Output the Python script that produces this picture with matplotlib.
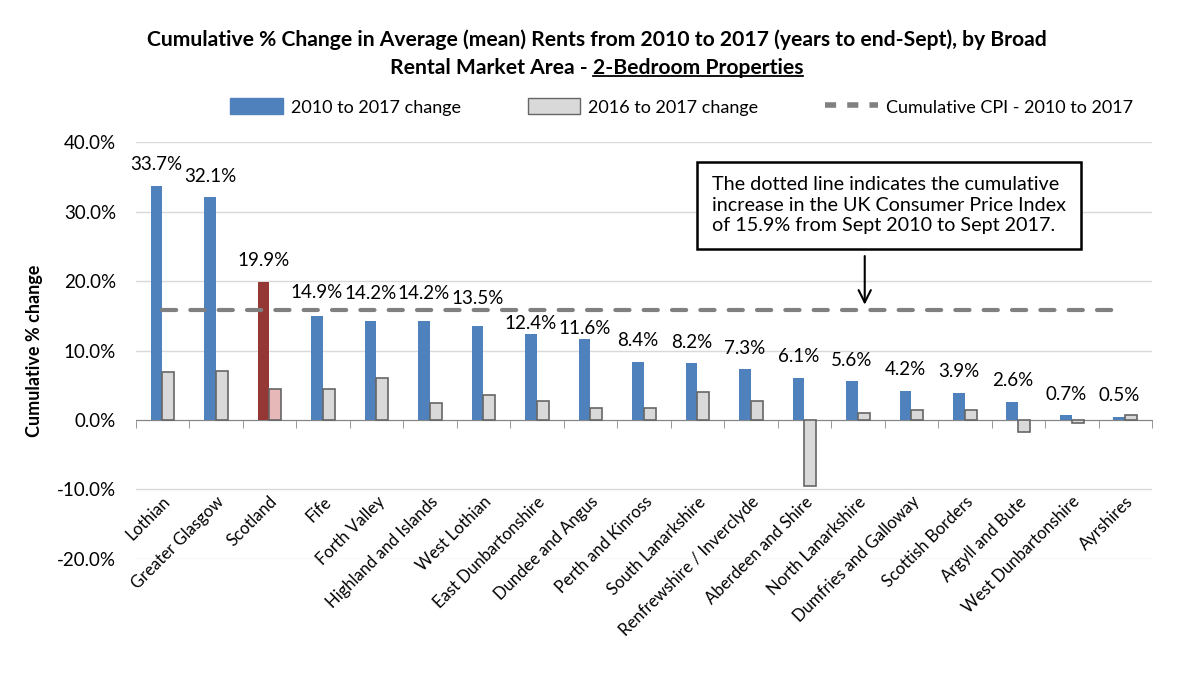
import numpy as np
import matplotlib.pyplot as plt
from matplotlib.patches import Patch
from matplotlib.lines import Line2D

plt.rcParams['font.family'] = ['Lato', 'DejaVu Sans']

areas = ["Lothian", "Greater Glasgow", "Scotland", "Fife", "Forth Valley",
         "Highland and Islands", "West Lothian", "East Dunbartonshire",
         "Dundee and Angus", "Perth and Kinross", "South Lanarkshire",
         "Renfrewshire / Inverclyde", "Aberdeen and Shire", "North Lanarkshire",
         "Dumfries and Galloway", "Scottish Borders", "Argyll and Bute",
         "West Dunbartonshire", "Ayrshires"]
change_2010_2017 = [33.7, 32.1, 19.9, 14.9, 14.2, 14.2, 13.5, 12.4, 11.6, 8.4,
                    8.2, 7.3, 6.1, 5.6, 4.2, 3.9, 2.6, 0.7, 0.5]
change_2016_2017 = [6.9, 7.0, 4.4, 4.4, 6.1, 2.5, 3.6, 2.8, 1.7, 1.7,
                    4.0, 2.7, -9.5, 1.0, 1.4, 1.4, -1.7, -0.5, 0.7]
cpi = 15.9
yticks = [-20, -10, 0, 10, 20, 30, 40]

blue = "#4F81BD"
grey = "#D9D9D9"
edge = "#666666"

# labels moved by hand in the original so they clear the CPI line (points)
label_nudge = {"Fife": 2, "Forth Valley": 5, "Highland and Islands": 5,
               "West Lothian": 5, "East Dunbartonshire": -8,
               "Dundee and Angus": -7}

fig = plt.figure(figsize=(12, 6.9), dpi=100)
ax = fig.add_axes([0.113, 0.19, 0.847, 0.604])

x = np.arange(len(areas))
w = 0.22
blue_cols = [("#953735" if a == "Scotland" else blue) for a in areas]
grey_cols = [("#E6B9B8" if a == "Scotland" else grey) for a in areas]

ax.bar(x - w / 2, change_2010_2017, w, color=blue_cols, zorder=3)
ax.bar(x + w / 2, change_2016_2017, w, color=grey_cols, edgecolor=edge,
       linewidth=1.2, zorder=3)
ax.plot(x, [cpi] * len(x), color="#808080", lw=3, ls=(0, (3.4, 3.4)),
        dash_capstyle="round", zorder=4)

for xi, a, v in zip(x, areas, change_2010_2017):
    ax.annotate(f"{v:.1f}%", (xi - w / 2, v), xytext=(0, 9 + label_nudge.get(a, 0)),
                textcoords="offset points", ha="center", va="bottom",
                fontsize=13.5, color="black", zorder=5)

ax.set_xlim(-0.5, len(areas) - 0.5)
ax.set_ylim(-20, 40)
ax.set_yticks(yticks)
ax.set_yticklabels([f"{t:.1f}%" for t in yticks], fontsize=13.5)
ax.yaxis.grid(True, color="#D9D9D9", lw=1, zorder=0)
ax.tick_params(axis="y", length=0, pad=14)

ax.spines["bottom"].set_position(("data", 0))
ax.spines["bottom"].set_color("#868686")
for s in ["top", "right", "left"]:
    ax.spines[s].set_visible(False)

ax.set_xticks(x)
ax.set_xticklabels(areas, rotation=45, ha="right", rotation_mode="anchor",
                   fontsize=12)
ax.tick_params(axis="x", length=0, pad=53)
ax.set_xticks(np.arange(-0.5, len(areas), 1), minor=True)
ax.tick_params(axis="x", which="minor", length=6, color="#868686", direction="out")

ax.set_ylabel("Cumulative % change", fontsize=13, fontweight="bold", labelpad=10)

# note box with arrow pointing at CPI line
ax.annotate("", xy=(13.13, cpi + 0.3), xytext=(13.13, 24.0),
            arrowprops=dict(arrowstyle="->", color="black", lw=1.5,
                            mutation_scale=22), zorder=6)
ax.text(13.58, 30.9,
        "The dotted line indicates the cumulative\n"
        "increase in the UK Consumer Price Index\n"
        "of 15.9% from Sept 2010 to Sept 2017.",
        ha="center", va="center", multialignment="left", fontsize=14.2,
        linespacing=1.25, zorder=7,
        bbox=dict(boxstyle="square,pad=0.75", fc="white", ec="black", lw=1.8))

# legend
handles = [Patch(facecolor=blue, edgecolor=blue),
           Patch(facecolor=grey, edgecolor=edge),
           Line2D([0], [0], color="#808080", lw=4, ls=(0, (2, 2)))]
labels = ["2010 to 2017 change", "2016 to 2017 change",
          "Cumulative CPI - 2010 to 2017"]
fig.legend(handles, labels, loc="center", bbox_to_anchor=(0.568, 0.845),
           ncol=3, frameon=False, fontsize=13, columnspacing=3.7,
           handlelength=2.9, handleheight=1.0, handletextpad=0.45)

# title with underlined part
fs_title = 15.2
fig.text(0.497, 0.942,
         "Cumulative % Change in Average (mean) Rents from 2010 to 2017 (years to end-Sept), by Broad",
         ha="center", va="center", fontsize=fs_title, fontweight="bold")
t1 = fig.text(0.497, 0.902, "Rental Market Area - ", ha="right", va="center",
              fontsize=fs_title, fontweight="bold")
t2 = fig.text(0.497, 0.902, "2-Bedroom Properties", ha="left", va="center",
              fontsize=fs_title, fontweight="bold")
fig.canvas.draw()
r = fig.canvas.get_renderer()
b1 = t1.get_window_extent(r)
b2 = t2.get_window_extent(r)
shift = (b1.width + b2.width) / 2 - b1.width
fw = fig.bbox.width
t1.set_x(0.497 - shift / fw)
t2.set_x(0.497 - shift / fw)
fig.canvas.draw()
b2 = t2.get_window_extent(r)
fh = fig.bbox.height
fig.add_artist(Line2D([b2.x0 / fw, b2.x1 / fw], [(b2.y0 + 2) / fh] * 2,
                      color="black", lw=1.3))

fig.savefig("out.png", dpi=100)
